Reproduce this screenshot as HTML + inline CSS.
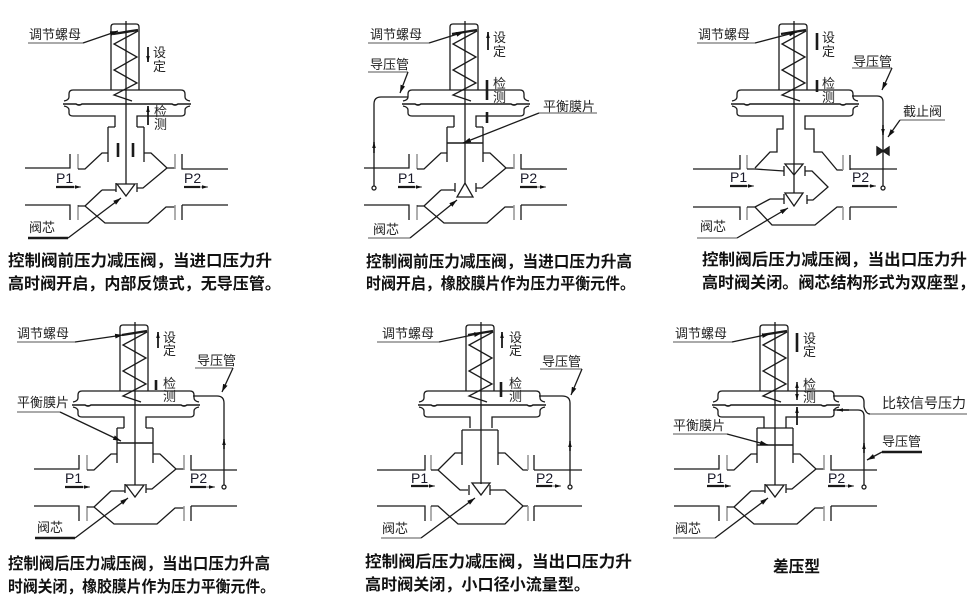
<!DOCTYPE html>
<html><head><meta charset="utf-8"><style>
html,body{margin:0;padding:0;background:#fff;}
svg{display:block;}
.t{font-family:"Liberation Sans","Noto Sans CJK SC",sans-serif;font-size:13px;fill:#222;}
.c{font-family:"Liberation Sans","Noto Sans CJK SC",sans-serif;font-size:16px;fill:#111;font-weight:bold;}
.p{font-family:"Liberation Sans",sans-serif;font-size:14px;fill:#1a1a2a;}
</style></head><body>
<svg width="975" height="611" viewBox="0 0 975 611" xmlns="http://www.w3.org/2000/svg">
<defs>
<marker id="a" viewBox="0 0 10 6" refX="10" refY="3" markerWidth="8" markerHeight="5" orient="auto" markerUnits="userSpaceOnUse"><path d="M0,0 L10,3 L0,6z" fill="#111"/></marker>
<marker id="b" viewBox="0 0 10 6" refX="10" refY="3" markerWidth="6" markerHeight="5" orient="auto" markerUnits="userSpaceOnUse"><path d="M0,0 L10,3 L0,6z" fill="#111"/></marker>
<g id="top" fill="none" stroke="#1a1a1a" stroke-width="1.3">
 <path d="M-15,90 V27 Q-15,24 -12,24 H10 Q13,24 13,27 V90"/>
 <path d="M-13,34 L12,30" stroke-width="2.4"/>
 <polyline points="12,31 -12,44 11,57 -12,70 11,83 -12,95 6,101"/>
 <path d="M-53,90 H55"/>
 <path d="M-53,90 Q-57,90 -57,94 V97 Q-57,100 -62,101"/>
 <path d="M-62,106 Q-57,107 -57,110 V113 Q-57,116 -53,116"/>
 <path d="M55,90 Q59,90 59,94 V97 Q59,100 64,101"/>
 <path d="M64,106 Q59,107 59,110 V113 Q59,116 55,116"/>
 <path d="M-63,104 H-50 Q-47,106 -44,104 H46 Q49,106 52,104 H65" stroke-width="1.6"/>
 <path d="M-53,116 H-11 V127 M11,127 V116 H55"/>
</g>
<g id="body" fill="none" stroke="#1a1a1a" stroke-width="1.3">
 <path d="M-18,127 V162 M18,127 V162 M-18,127 H-11 M11,127 H18"/>
 <path d="M-101,168 H-56 V154"/>
 <path d="M-48,154 V169" stroke="#999" stroke-width="1.6"/>
 <path d="M-48,169 H-41 L-24,153 H-18"/>
 <path d="M18,153 H25 L41,168 H49"/>
 <path d="M41,168 L17,188 H11 M11,183 V192"/>
 <path d="M49,154 V169" stroke="#999" stroke-width="1.6"/>
 <path d="M56,154 V169 H102"/>
 <path d="M-24,190 H-10 M-10,183 V192"/>
 <path d="M-24,190 L-41,206"/>
 <path d="M-101,205 H-56 V220"/>
 <path d="M-48,205 V220" stroke="#999" stroke-width="1.6"/>
 <path d="M-48,206 H-41 L-21,223 H22 L40,207 H49"/>
 <path d="M49,205 V220" stroke="#999" stroke-width="1.6"/>
 <path d="M56,205 V220 M56,205 H102"/>
</g>
</defs>

<!-- D1 -->
<g transform="translate(126,0)">
 <use href="#top"/><use href="#body"/>
 <g fill="none" stroke="#1a1a1a" stroke-width="1.3">
  <path d="M0,21 V184"/>
  <path d="M-9,184 H9 L0,196 Z"/>
  <path d="M-8,143 V157 M7,143 V157" stroke-width="2.6"/>
  <path d="M22,47 V62" stroke-width="1.8" marker-end="url(#b)"/>
  <path d="M22,125 V106" stroke-width="1.8" marker-end="url(#b)"/>
  <path d="M-98,43 H-43" stroke="#777"/>
  <path d="M-43,43 L-8,31" marker-end="url(#a)"/>
  <path d="M-98,238 H-58" stroke-width="2.6"/>
  <path d="M-58,238 L-5,198" marker-end="url(#a)"/>
  <path d="M-70,187 H-52" stroke-width="2.2"/><path d="M-52,187 H-45" stroke="#888" marker-end="url(#b)"/>
  <path d="M58,187 H74" stroke-width="2.2"/><path d="M74,187 H82" stroke="#888" marker-end="url(#b)"/>
 </g>
 <text class="t" x="-97" y="39">调节螺母</text>
 <text class="t" x="27" y="57">设</text><text class="t" x="27" y="71">定</text>
 <text class="t" x="28" y="116">检</text><text class="t" x="28" y="129">测</text>
 <text class="p" x="-70" y="183">P1</text><text class="p" x="58" y="183">P2</text>
 <text class="t" x="-97" y="232">阀芯</text>
</g>

<!-- D2 -->
<g transform="translate(465,0)">
 <use href="#top"/><use href="#body"/>
 <g fill="none" stroke="#1a1a1a" stroke-width="1.3">
  <path d="M0,21 V184"/>
  <path d="M-8,197 H8 L0,183 Z"/>
  <path d="M-18,143 H18" stroke-width="1.6"/>
  <path d="M23,50 V32" stroke-width="1.8" marker-end="url(#b)"/>
  <path d="M22,80 V100 M22,112 V123" stroke-width="2.6"/>
  <path d="M-97,43 H-36" stroke="#777"/>
  <path d="M-36,43 L-1,32" marker-end="url(#a)"/>
  <path d="M-97,72 H-57" stroke="#777"/>
  <path d="M-57,72 L-65,93" marker-end="url(#a)"/>
  <path d="M-57,97 H-84 Q-91,97 -91,104 V186"/>
  <circle cx="-91" cy="188" r="2"/>
  <path d="M-91,153 V142" marker-end="url(#b)" stroke-width="1.6"/>
  <path d="M74,113 H132" stroke="#777"/>
  <path d="M74,113 L-2,143" marker-end="url(#a)"/>
  <path d="M-97,238 H-55" stroke="#777"/>
  <path d="M-55,238 L-8,200" marker-end="url(#a)"/>
  <path d="M-67,187 H-50" stroke-width="2.2"/><path d="M-50,187 H-43" stroke="#888" marker-end="url(#b)"/>
  <path d="M55,187 H72" stroke-width="2.2"/><path d="M72,187 H81" stroke="#888" marker-end="url(#b)"/>
 </g>
 <text class="t" x="-95" y="39">调节螺母</text>
 <text class="t" x="28" y="42">设</text><text class="t" x="28" y="56">定</text>
 <text class="t" x="28" y="88">检</text><text class="t" x="28" y="102">测</text>
 <text class="t" x="-95" y="69">导压管</text>
 <text class="t" x="78" y="111">平衡膜片</text>
 <text class="p" x="-67" y="183">P1</text><text class="p" x="55" y="183">P2</text>
 <text class="t" x="-92" y="234">阀芯</text>
</g>

<!-- D3 -->
<g transform="translate(794,0)">
 <use href="#top"/>
 <g fill="none" stroke="#1a1a1a" stroke-width="1.3">
  <path d="M0,21 V193"/>
  <path d="M-11,127 V129 H-17 V152 H-24 L-39,168"/>
  <path d="M11,127 V129 H20 V152 H28 L43,170 H49"/>
  <path d="M-101,169 H-54 V155"/>
  <path d="M-47,155 V169" stroke="#999" stroke-width="1.6"/>
  <path d="M-47,169 H-39 L-10,171 M-10,166 V176"/>
  <path d="M-9,164 H9 L0,175 Z"/>
  <path d="M11,166 V176 M11,171 H18 L34,187 L19,200 H13 M13,195 V204"/>
  <path d="M49,155 V170" stroke="#999" stroke-width="1.6"/>
  <path d="M56,155 V170 M56,169 H103"/>
  <path d="M-9,193 H9 L0,206 Z"/>
  <path d="M-24,199 H-10 M-10,194 V204 M-24,199 L-39,207"/>
  <path d="M-101,207 H-54 V220"/>
  <path d="M-47,207 V220" stroke="#999" stroke-width="1.6"/>
  <path d="M-47,207 H-39 L-22,225 H21 L43,207 H49"/>
  <path d="M49,207 V220" stroke="#999" stroke-width="1.6"/>
  <path d="M56,207 V220 M56,207 H103"/>
  <path d="M23,33 V50 M23,80 V92" stroke-width="2.6"/>
  <path d="M-97,43 H-39" stroke="#777"/>
  <path d="M-39,43 L3,32" marker-end="url(#a)"/>
  <path d="M58,68 H98" stroke="#777"/>
  <path d="M98,68 L88,90" marker-end="url(#a)"/>
  <path d="M58,96 H83 Q89,96 89,102 V186"/>
  <circle cx="89" cy="188" r="2"/>
  <path d="M89,125 V135" marker-end="url(#b)" stroke-width="1.6"/>
  <path d="M83,147 L95,155 V147 L83,155 Z" stroke-width="1.4" fill="#222"/>
  <path d="M106,120 H151" stroke="#777"/>
  <path d="M106,120 L94,137" marker-end="url(#a)"/>
  <path d="M-97,238 H-57" stroke="#777"/>
  <path d="M-57,238 L-6,208" marker-end="url(#a)"/>
  <path d="M-64,186 H-47" stroke-width="2.2"/><path d="M-47,186 H-40" stroke="#888" marker-end="url(#b)"/>
  <path d="M58,186 H74" stroke-width="2.2"/><path d="M74,186 H82" stroke="#888" marker-end="url(#b)"/>
 </g>
 <text class="t" x="-96" y="39">调节螺母</text>
 <text class="t" x="28" y="42">设</text><text class="t" x="28" y="56">定</text>
 <text class="t" x="28" y="88">检</text><text class="t" x="28" y="102">测</text>
 <text class="t" x="59" y="66">导压管</text>
 <text class="t" x="109" y="116">截止阀</text>
 <text class="p" x="-64" y="182">P1</text><text class="p" x="58" y="182">P2</text>
 <text class="t" x="-94" y="231">阀芯</text>
</g>

<!-- D4 -->
<g transform="translate(135,301)">
 <use href="#top"/><use href="#body"/>
 <g fill="none" stroke="#1a1a1a" stroke-width="1.3">
  <path d="M0,21 V184"/>
  <path d="M-9,184 H9 L0,196 Z"/>
  <path d="M-18,142 H18" stroke-width="1.6"/>
  <path d="M23,47 V31" stroke-width="1.8" marker-end="url(#b)"/>
  <path d="M21,79 V89" stroke-width="2.6"/>
  <path d="M-118,41 H-60" stroke="#777"/>
  <path d="M-60,41 L-12,34" marker-end="url(#a)"/>
  <path d="M58,95 H82 Q89,95 89,102 V184"/>
  <circle cx="89" cy="186" r="2"/>
  <path d="M89,148 V138" marker-end="url(#b)" stroke-width="1.6"/>
  <path d="M60,67 H98" stroke="#777"/>
  <path d="M98,67 L87,91" marker-end="url(#a)"/>
  <path d="M-118,111 H-75" stroke="#777"/>
  <path d="M-75,111 L-14,140" marker-end="url(#a)"/>
  <path d="M-100,237 H-60" stroke-width="2.6"/>
  <path d="M-60,237 L-7,197" marker-end="url(#a)"/>
  <path d="M-70,186 H-52" stroke-width="2.2"/><path d="M-52,186 H-45" stroke="#888" marker-end="url(#b)"/>
  <path d="M55,186 H71" stroke-width="2.2"/><path d="M71,186 H80" stroke="#888" marker-end="url(#b)"/>
 </g>
 <text class="t" x="-118" y="37">调节螺母</text>
 <text class="t" x="28" y="41">设</text><text class="t" x="28" y="54">定</text>
 <text class="t" x="28" y="87">检</text><text class="t" x="28" y="100">测</text>
 <text class="t" x="62" y="64">导压管</text>
 <text class="t" x="-118" y="106">平衡膜片</text>
 <text class="p" x="-70" y="182">P1</text><text class="p" x="55" y="182">P2</text>
 <text class="t" x="-98" y="231">阀芯</text>
</g>

<!-- D5 -->
<g transform="translate(481,301)">
 <use href="#top"/>
 <g fill="none" stroke="#1a1a1a" stroke-width="1.3">
  <path d="M0,21 V183"/>
  <path d="M-19,129 H17 M-19,129 V164 M17,129 V164"/>
  <path d="M-19,152 H-26 L-43,169 L-21,189 H-13 M-12,184 V194"/>
  <path d="M-104,169 H-56 V154"/>
  <path d="M-50,154 V169" stroke="#999" stroke-width="1.6"/>
  <path d="M-50,169 H-43"/>
  <path d="M-9,182 H9 L0,194 Z"/>
  <path d="M9,184 V194 M9,189 H24 L42,205 H47"/>
  <path d="M17,152 H24 L42,169 H47"/>
  <path d="M47,154 V169" stroke="#999" stroke-width="1.6"/>
  <path d="M53,154 V169 M53,169 H101"/>
  <path d="M-104,205 H-56 V220"/>
  <path d="M-50,205 V220" stroke="#999" stroke-width="1.6"/>
  <path d="M-50,205 H-43 L-23,223 H24 L42,205"/>
  <path d="M47,205 V220" stroke="#999" stroke-width="1.6"/>
  <path d="M53,205 V220 M53,205 H101"/>
  <path d="M21,47 V31" stroke-width="1.8" marker-end="url(#b)"/>
  <path d="M20,81 V96" stroke-width="2.6"/>
  <path d="M-104,41 H-42" stroke="#777"/>
  <path d="M-42,41 L1,32" marker-end="url(#a)"/>
  <path d="M58,95 H81 Q89,95 89,102 V184"/>
  <circle cx="89" cy="186" r="2"/>
  <path d="M89,150 V140" marker-end="url(#b)" stroke-width="1.6"/>
  <path d="M59,68 H101" stroke="#777"/>
  <path d="M101,68 L90,94" marker-end="url(#a)"/>
  <path d="M-100,237 H-60" stroke="#777"/>
  <path d="M-60,237 L-6,197" marker-end="url(#a)"/>
  <path d="M-70,185 H-53" stroke-width="2.2"/><path d="M-53,185 H-46" stroke="#888" marker-end="url(#b)"/>
  <path d="M55,185 H71" stroke-width="2.2"/><path d="M71,185 H80" stroke="#888" marker-end="url(#b)"/>
 </g>
 <text class="t" x="-99" y="37">调节螺母</text>
 <text class="t" x="28" y="41">设</text><text class="t" x="28" y="54">定</text>
 <text class="t" x="28" y="87">检</text><text class="t" x="28" y="100">测</text>
 <text class="t" x="61" y="65">导压管</text>
 <text class="p" x="-70" y="182">P1</text><text class="p" x="55" y="182">P2</text>
 <text class="t" x="-99" y="232">阀芯</text>
</g>

<!-- D6 -->
<g transform="translate(775,301)">
 <use href="#top"/><use href="#body"/>
 <g fill="none" stroke="#1a1a1a" stroke-width="1.3">
  <path d="M0,21 V184"/>
  <path d="M-9,184 H9 L0,196 Z"/>
  <path d="M-11,127 H11"/>
  <path d="M-18,144 H18" stroke-width="1.6"/>
  <path d="M22,32 V51" stroke-width="2.6"/>
  <path d="M22,90 V81" stroke-width="1.6" marker-end="url(#b)"/>
  <path d="M22,90 V99" stroke-width="1.6" marker-end="url(#b)"/>
  <path d="M22,124 V106" stroke-width="1.8" marker-end="url(#b)"/>
  <path d="M-102,41 H-43" stroke="#777"/>
  <path d="M-43,41 L-5,33" marker-end="url(#a)"/>
  <path d="M58,95 H83 Q89,95 89,101 V106"/>
  <path d="M58,109 H83 Q89,109 89,115 V184"/>
  <path d="M89,106 Q91,113 95,113"/>
  <path d="M74,109 H62" marker-end="url(#b)" stroke-width="1.6"/>
  <path d="M89,152 V142" marker-end="url(#b)" stroke-width="1.6"/>
  <circle cx="89" cy="186" r="2"/>
  <path d="M95,113 H192" stroke="#777"/>
  <path d="M107,151 H147" stroke-width="2.6"/>
  <path d="M107,151 L92,159" marker-end="url(#a)"/>
  <path d="M-102,133 H-48" stroke="#777"/>
  <path d="M-48,133 L-7,144" marker-end="url(#a)"/>
  <path d="M-102,237 H-60" stroke="#777"/>
  <path d="M-60,237 L-7,197" marker-end="url(#a)"/>
  <path d="M-68,185 H-51" stroke-width="2.2"/><path d="M-51,185 H-44" stroke="#888" marker-end="url(#b)"/>
  <path d="M53,185 H70" stroke-width="2.2"/><path d="M70,185 H79" stroke="#888" marker-end="url(#b)"/>
 </g>
 <text class="t" x="-100" y="37">调节螺母</text>
 <text class="t" x="28" y="42">设</text><text class="t" x="28" y="55">定</text>
 <text class="t" x="28" y="88">检</text><text class="t" x="28" y="101">测</text>
 <text class="t" x="107" y="107" style="font-size:14px">比较信号压力</text>
 <text class="t" x="107" y="145">导压管</text>
 <text class="t" x="-102" y="129">平衡膜片</text>
 <text class="p" x="-68" y="182">P1</text><text class="p" x="53" y="182">P2</text>
 <text class="t" x="-100" y="232">阀芯</text>
</g>

<!-- captions -->
<text class="c" x="8" y="266" textLength="264" lengthAdjust="spacingAndGlyphs">控制阀前压力减压阀，当进口压力升</text>
<text class="c" x="8" y="289" textLength="273" lengthAdjust="spacingAndGlyphs">高时阀开启，内部反馈式，无导压管。</text>
<text class="c" x="366" y="267" textLength="266" lengthAdjust="spacingAndGlyphs">控制阀前压力减压阀，当进口压力升高</text>
<text class="c" x="366" y="289" textLength="269" lengthAdjust="spacingAndGlyphs">时阀开启，橡胶膜片作为压力平衡元件。</text>
<text class="c" x="702" y="265" textLength="265" lengthAdjust="spacingAndGlyphs">控制阀后压力减压阀，当出口压力升</text>
<text class="c" x="702" y="288" textLength="273" lengthAdjust="spacingAndGlyphs">高时阀关闭。阀芯结构形式为双座型，</text>
<text class="c" x="8" y="569" textLength="262" lengthAdjust="spacingAndGlyphs">控制阀后压力减压阀，当出口压力升高</text>
<text class="c" x="8" y="592" textLength="267" lengthAdjust="spacingAndGlyphs">时阀关闭，橡胶膜片作为压力平衡元件。</text>
<text class="c" x="365" y="567" textLength="267" lengthAdjust="spacingAndGlyphs">控制阀后压力减压阀，当出口压力升</text>
<text class="c" x="365" y="590" textLength="225" lengthAdjust="spacingAndGlyphs">高时阀关闭，小口径小流量型。</text>
<text class="c" x="773" y="572" textLength="47" lengthAdjust="spacingAndGlyphs">差压型</text>
</svg>
</body></html>
